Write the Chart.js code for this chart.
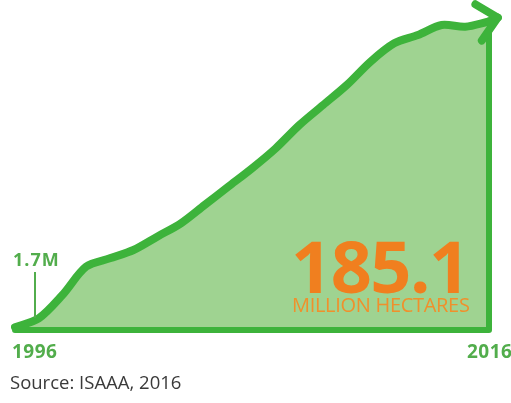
<!DOCTYPE html>
<html>
<head>
<meta charset="utf-8">
<script src="https://cdn.jsdelivr.net/npm/chart.js@4.4.1/dist/chart.umd.min.js"></script>
<style>
  html, body { margin: 0; padding: 0; background: #fff; }
  #wrap { position: relative; width: 511px; height: 403px; overflow: hidden; font-family: "Open Sans", sans-serif; }
  #wrap canvas { position: absolute; left: 0; top: 0; }
  .lbl { position: absolute; white-space: nowrap; line-height: 1; }
  .green { color: #52ad4c; font-weight: 700; font-size: 19px; letter-spacing: 0.5px; }
  #big { left: 291px; top: 229px; font-size: 72px; font-weight: 700; color: #f07f1f; letter-spacing: -1.5px; }
  #unit { left: 292px; top: 295px; font-size: 20px; color: #f0902c; letter-spacing: -0.3px; }
  #src { left: 10px; top: 373px; font-size: 18.5px; color: #3a3a3a; }
  #tick { position: absolute; left: 34px; top: 272px; width: 1.5px; height: 46px; background: #52ad4c; }
</style>
</head>
<body>
<div id="wrap">
  <canvas id="myChart" width="511" height="403"></canvas>
  <div class="lbl green" id="startVal" style="left:13px; top:250px; font-size:18px; letter-spacing:1px;">1.7M</div>
  <div id="tick"></div>
  <div class="lbl green" style="left:12px; top:342px;">1996</div>
  <div class="lbl green" style="left:467px; top:342px;">2016</div>
  <div class="lbl" id="big">185.1</div>
  <div class="lbl" id="unit">MILLION HECTARES</div>
  <div class="lbl" id="src">Source: ISAAA, 2016</div>
</div>
<script>
var years = ['1996','1997','1998','1999','2000','2001','2002','2003','2004','2005',
  '2006','2007','2008','2009','2010','2011','2012','2013','2014','2015','2016'];
var hectares = [1.7, 7, 21, 38, 43, 48, 56, 64, 75, 86,
  97, 109, 123, 135, 147, 161, 172, 177, 183, 182, 185.1];

var lineGreen = '#3db33b';

// baseline, right edge and arrow head, all from the scales
var frame = {
	id: 'frame',
	afterDatasetsDraw: function(chart) {
		var c = chart.ctx;
		var xs = chart.scales.x, ys = chart.scales.y;
		var n = hectares.length;
		var x0 = xs.getPixelForValue(0), x1 = xs.getPixelForValue(n - 1);
		var yb = ys.getPixelForValue(0);
		var yl = ys.getPixelForValue(hectares[n - 1]);
		var yp = ys.getPixelForValue(hectares[n - 2]);
		var xp = xs.getPixelForValue(n - 2);
		c.save();
		c.strokeStyle = lineGreen;
		c.lineCap = 'round';
		c.lineJoin = 'round';
		c.lineWidth = 6;
		c.beginPath();
		c.moveTo(x0, yb);
		c.lineTo(x1, yb);
		c.lineTo(x1, yl + 10);
		c.stroke();
		// arrow head
		var ang = Math.atan2(yl - yp, x1 - xp);
		var tx = x1 + 9 * Math.cos(ang), ty = yl + 9 * Math.sin(ang) - 2;
		c.lineWidth = 8;
		c.beginPath();
		c.moveTo(x1, yl);
		c.lineTo(tx, ty);
		c.stroke();
		var back = ang + Math.PI;
		c.beginPath();
		c.moveTo(tx + 28 * Math.cos(back - 0.75), ty + 28 * Math.sin(back - 0.75));
		c.lineTo(tx, ty);
		c.lineTo(tx + 26 * Math.cos(back + 0.75), ty + 26 * Math.sin(back + 0.75));
		c.stroke();
		c.restore();
	}
};

var ctx = document.getElementById('myChart');
var myChart = new Chart(ctx, {
	type: 'line',
	data: {
		labels: years,
		datasets: [{
			data: hectares,
			borderColor: lineGreen,
			backgroundColor: '#9fd391',
			borderWidth: 8,
			fill: 'origin',
			pointRadius: 0,
			tension: 0.3,
			borderCapStyle: 'round',
			borderJoinStyle: 'round'
		}]
	},
	options: {
		responsive: false,
		animation: false,
		layout: { padding: { left: 15, right: 22, top: 10, bottom: 73 } },
		plugins: { legend: { display: false }, tooltip: { enabled: false } },
		scales: {
			x: { display: false, offset: false },
			y: { display: false, min: 0, max: 192 }
		}
	},
	plugins: [frame]
});
</script>
</body>
</html>
